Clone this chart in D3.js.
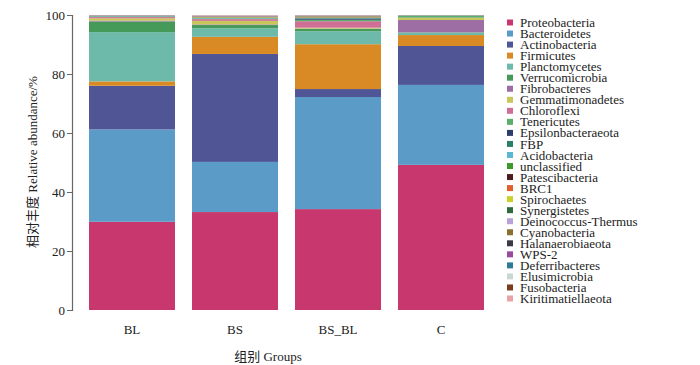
<!DOCTYPE html>
<html>
<head>
<meta charset="utf-8">
<script src="https://cdn.jsdelivr.net/npm/d3@7"></script>
<style>
  html, body { margin: 0; padding: 0; background: #fff; }
  svg { display: block; }
  text { font-family: "Liberation Serif", "Noto Sans CJK SC", serif; fill: #222; }
</style>
</head>
<body>
<svg id="chart" width="700" height="365"></svg>
<script>
const groups = ["BL", "BS", "BS_BL", "C"];
const phyla = ["Proteobacteria", "Bacteroidetes", "Actinobacteria", "Firmicutes", "Planctomycetes",
  "Verrucomicrobia", "Fibrobacteres", "Gemmatimonadetes", "Chloroflexi", "Tenericutes",
  "Epsilonbacteraeota", "FBP", "Acidobacteria", "unclassified", "Patescibacteria", "BRC1",
  "Spirochaetes", "Synergistetes", "Deinococcus-Thermus", "Cyanobacteria", "Halanaerobiaeota",
  "WPS-2", "Deferribacteres", "Elusimicrobia", "Fusobacteria", "Kiritimatiellaeota"];
const colors = ["#c8386e", "#5b9bc8", "#4f5595", "#da8a25", "#6dbaaa",
  "#459a5a", "#9c6ea3", "#c9c65a", "#d06f96", "#5aae6e",
  "#2b3d6b", "#2e7f6a", "#5ab8d0", "#3d9a2a", "#4a1e1e", "#e2602a",
  "#c8d22a", "#2f6b3f", "#b9a3d6", "#8a7030", "#3e3a45",
  "#9a4a9a", "#2f7a94", "#c9d9d2", "#7a3b1e", "#e8a3a8"];
// relative abundance (%) per group, in phyla order
const valuesBL =    [29.9, 31.3, 14.8, 1.5, 16.7, 3.6, 0.3, 0.8, 0.4, 0.1, 0.05, 0.05, 0.1, 0.05, 0.03, 0.02, 0.02, 0.02, 0.1, 0.02, 0.02, 0.05, 0.02, 0.02, 0.02, 0.01];
const valuesBS =    [33.2, 17.0, 36.6, 5.8, 2.9, 1.1, 0.2, 1.2, 0.6, 0.2, 0.05, 0.05, 0.1, 0.1, 0.05, 0.05, 0.1, 0.05, 0.1, 0.1, 0.05, 0.1, 0.05, 0.1, 0.05, 0.1];
const valuesBS_BL = [34.2, 38.0, 2.7, 15.2, 4.4, 0.8, 0.1, 0.3, 2.2, 0.5, 0.35, 0.2, 0.1, 0.1, 0.05, 0.1, 0.05, 0.1, 0.05, 0.15, 0.05, 0.05, 0.05, 0.05, 0.05, 0.1];
const valuesC =     [49.2, 27.1, 13.2, 3.7, 0.8, 0.1, 4.2, 0.7, 0.1, 0.6, 0.02, 0.03, 0.05, 0.05, 0.01, 0.01, 0.02, 0.01, 0.02, 0.01, 0.01, 0.02, 0.01, 0.01, 0.01, 0.01];
const yTicks = [0, 20, 40, 60, 80, 100];

const seriesByGroup = [valuesBL, valuesBS, valuesBS_BL, valuesC];
const table = groups.map((g, i) => {
  const row = { group: g };
  phyla.forEach((p, j) => row[p] = seriesByGroup[i][j]);
  return row;
});

const svg = d3.select("#chart");
const x = d3.scaleBand().domain(groups).range([80.5, 492.5]).paddingInner(0.165).paddingOuter(0.0825);
const y = d3.scaleLinear().domain([0, 100]).range([310, 15]);
const color = d3.scaleOrdinal().domain(phyla).range(colors);

const stacked = d3.stack().keys(phyla)(table);

svg.append("g").selectAll("g").data(stacked).join("g")
  .attr("fill", d => color(d.key))
  .selectAll("rect").data(d => d).join("rect")
  .attr("x", d => x(d.data.group))
  .attr("width", x.bandwidth())
  .attr("y", d => y(d[1]))
  .attr("height", d => Math.max(0, y(d[0]) - y(d[1])));

// y axis
const yAxis = svg.append("g").attr("transform", "translate(72,0)")
  .call(d3.axisLeft(y).tickValues(yTicks).tickSize(5).tickPadding(2));
yAxis.select(".domain").attr("stroke", "#666").attr("stroke-width", 1.2);
yAxis.selectAll(".tick line").attr("stroke", "#666");
yAxis.selectAll(".tick text").style("font-size", "13px").style("font-family", "'Liberation Serif', serif").attr("fill", "#222");

// x labels
svg.append("g").selectAll("text").data(groups).join("text")
  .attr("x", d => x(d) + x.bandwidth() / 2)
  .attr("y", 329)
  .attr("dy", "0.35em")
  .attr("text-anchor", "middle")
  .style("font-size", "13px")
  .text(d => d);

// axis titles
svg.append("text")
  .attr("transform", "translate(32,162) rotate(-90)")
  .attr("text-anchor", "middle")
  .attr("dy", "0.35em")
  .style("font-size", "13px")
  .text("相对丰度 Relative abundance/%");
svg.append("text")
  .attr("x", 268).attr("y", 356)
  .attr("dy", "0.35em")
  .attr("text-anchor", "middle")
  .style("font-size", "13px")
  .text("组别 Groups");

// legend
const legend = svg.append("g").selectAll("g").data(phyla).join("g")
  .attr("transform", (d, i) => `translate(507,${22.5 + i * 11.04})`);
legend.append("rect").attr("x", 0).attr("y", -3).attr("width", 6).attr("height", 6).attr("fill", d => color(d));
legend.append("text").attr("x", 13).attr("y", 0).attr("dy", "0.35em")
  .style("font-size", "13px").text(d => d);
</script>
</body>
</html>
